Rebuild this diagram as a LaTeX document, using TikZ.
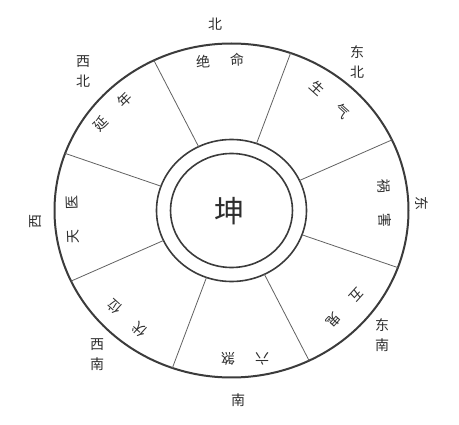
\documentclass[tikz,border=0pt]{standalone}
\usepackage{fontspec}
\setmainfont{Noto Sans CJK SC}
\newlength{\du}
\setlength{\du}{10pt}
\definecolor{labelcolor}{rgb}{0.180000, 0.180000, 0.180000}
\tikzset{
  sectorlabel/.style={anchor=center, inner sep=0pt, text=labelcolor, font=\fontsize{14}{14}\selectfont},
  dirlabel/.style={anchor=center, inner sep=0pt, align=center, text=labelcolor, font=\fontsize{14}{20}\selectfont},
  centerlabel/.style={anchor=center, inner sep=0pt, text=labelcolor, font=\fontsize{30}{30}\selectfont}
}

\begin{document}
\begin{tikzpicture}
\pgftransformxscale{1.000000}
\pgftransformyscale{-1.000000}
\useasboundingbox (0\du,0\du) rectangle (45.900000\du,42.500000\du);
\definecolor{dialinecolor}{rgb}{0.230000, 0.230000, 0.230000}
\pgfsetstrokecolor{dialinecolor}
\pgfsetdash{}{0pt}
% outer ring
\pgfsetlinewidth{0.200000\du}
\pgfpathellipse{\pgfpoint{23.150000\du}{21.050000\du}}{\pgfpoint{17.700000\du}{0\du}}{\pgfpoint{0\du}{16.700000\du}}
\pgfusepath{stroke}
% inner double ring
\pgfsetlinewidth{0.160000\du}
\pgfpathellipse{\pgfpoint{23.150000\du}{21.050000\du}}{\pgfpoint{7.500000\du}{0\du}}{\pgfpoint{0\du}{7.100000\du}}
\pgfusepath{stroke}
\pgfpathellipse{\pgfpoint{23.150000\du}{21.050000\du}}{\pgfpoint{6.100000\du}{0\du}}{\pgfpoint{0\du}{5.700000\du}}
\pgfusepath{stroke}
% spokes
\definecolor{dialinecolor}{rgb}{0.380000, 0.380000, 0.380000}
\pgfsetstrokecolor{dialinecolor}
\pgfsetlinewidth{0.080000\du}
\pgfsetbuttcap
\draw (29.950000\du,18.050000\du)--(39.190000\du,13.990000\du);
\draw (25.650000\du,14.360000\du)--(29.060000\du,5.310000\du);
\draw (19.860000\du,14.670000\du)--(15.390000\du,6.040000\du);
\draw (16.100000\du,18.620000\du)--(6.520000\du,15.340000\du);
\draw (16.350000\du,24.050000\du)--(7.110000\du,28.110000\du);
\draw (20.650000\du,27.740000\du)--(17.240000\du,36.790000\du);
\draw (26.440000\du,27.430000\du)--(30.910000\du,36.060000\du);
\draw (30.200000\du,23.480000\du)--(39.780000\du,26.760000\du);
% setfont left to latex
\node[centerlabel] (kun) at (22.900000\du,21.150000\du){坤};
% setfont left to latex
\node[sectorlabel, rotate=3] (jueming) at (22.000000\du,6.100000\du){绝\hspace{2.000000\du}命};
\node[sectorlabel, rotate=-42] (shengqi) at (33.000000\du,10.000000\du){生\hspace{2.000000\du}气};
\node[sectorlabel, rotate=-88] (huohai) at (38.500000\du,20.300000\du){祸\hspace{2.000000\du}害};
\node[sectorlabel, rotate=-132] (wugui) at (34.500000\du,30.800000\du){五\hspace{2.000000\du}鬼};
\node[sectorlabel, rotate=180] (liusha) at (24.500000\du,35.900000\du){六\hspace{2.000000\du}煞};
\node[sectorlabel, rotate=138] (fuwei) at (12.700000\du,31.800000\du){伏\hspace{2.000000\du}位};
\node[sectorlabel, rotate=92] (tianyi) at (7.300000\du,22.000000\du){天\hspace{2.000000\du}医};
\node[sectorlabel, rotate=45] (yannian) at (11.300000\du,11.200000\du){延\hspace{2.000000\du}年};
% setfont left to latex
\node[dirlabel] (bei) at (21.500000\du,2.400000\du){北};
\node[dirlabel] (dongbei) at (35.700000\du,6.200000\du){东\\北};
\node[dirlabel, rotate=-90] (dong) at (42.200000\du,20.400000\du){东};
\node[dirlabel] (dongnan) at (38.200000\du,33.500000\du){东\\南};
\node[dirlabel] (nan) at (23.800000\du,40.000000\du){南};
\node[dirlabel] (xinan) at (9.700000\du,35.500000\du){西\\南};
\node[dirlabel, rotate=90] (xi) at (3.550000\du,22.200000\du){西};
\node[dirlabel] (xibei) at (8.300000\du,7.200000\du){西\\北};
\end{tikzpicture}
\end{document}
